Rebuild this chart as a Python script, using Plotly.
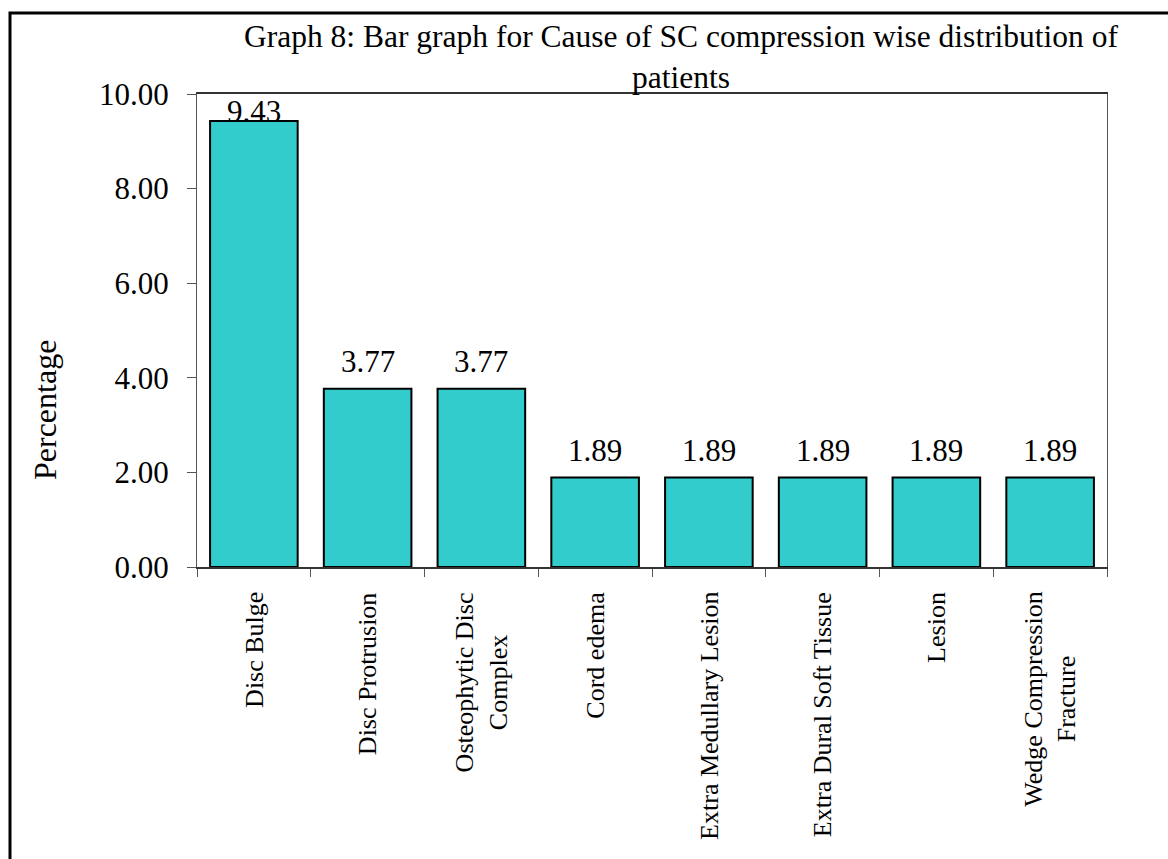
import plotly.graph_objects as go

# Cause of spinal cord compression, percentage of patients
causes = [
    "Disc Bulge",
    "Disc Protrusion",
    "Osteophytic Disc<br>Complex",
    "Cord edema",
    "Extra Medullary Lesion",
    "Extra Dural Soft Tissue",
    "Lesion",
    "Wedge Compression<br>Fracture",
]
percentages = [9.43, 3.77, 3.77, 1.89, 1.89, 1.89, 1.89, 1.89]
y_ticks = [0, 2, 4, 6, 8, 10]
y_tick_labels = ["0.00", "2.00", "4.00", "6.00", "8.00", "10.00"]
title_text = "Graph 8: Bar graph for Cause of SC compression wise distribution of<br>patients"

FONT = "Times New Roman, Liberation Serif, serif"
W, H = 1168, 859
L, R, T, B = 197, 1107, 94, 567  # plot area in pixels


def px_x(px):
    return (px - L) / (R - L)


def px_y(py):
    return (B - py) / (B - T)


fig = go.Figure(
    go.Bar(
        x=causes,
        y=percentages,
        marker=dict(color="#33CCCC", line=dict(color="black", width=2)),
        hoverinfo="x+y",
    )
)

annotations = []

# value labels above the bars
ymax = 10
for c, v in zip(causes, percentages):
    if v + 0.9 > ymax:
        annotations.append(dict(x=c, y=ymax, xref="x", yref="y", text=f"{v:.2f}",
                                showarrow=False, yanchor="top", yshift=2,
                                font=dict(family=FONT, size=31, color="black")))
    else:
        annotations.append(dict(x=c, y=v, xref="x", yref="y", text=f"{v:.2f}",
                                showarrow=False, yanchor="bottom", yshift=8,
                                font=dict(family=FONT, size=31, color="black")))

# rotated category labels below the axis
for c in causes:
    annotations.append(dict(x=c, y=0, xref="x", yref="paper", text=c,
                            showarrow=False, textangle=-90, yanchor="top",
                            xanchor="center", align="center", yshift=-23,
                            font=dict(family=FONT, size=26, color="black")))

# y-axis title
annotations.append(dict(x=px_x(45), y=px_y(410), xref="paper", yref="paper",
                        text="Percentage", showarrow=False, textangle=-90,
                        xanchor="center", yanchor="middle",
                        font=dict(family=FONT, size=32, color="black")))

# chart title
annotations.append(dict(x=px_x(681), y=px_y(17), xref="paper", yref="paper",
                        text=title_text, showarrow=False, xanchor="center",
                        yanchor="top", align="center",
                        font=dict(family=FONT, size=31.5, color="black")))

fig.update_layout(
    width=W, height=H,
    margin=dict(l=L, r=W - R, t=T, b=H - B, pad=0),
    paper_bgcolor="white", plot_bgcolor="white",
    bargap=0.23,
    showlegend=False,
    annotations=annotations,
    shapes=[dict(type="rect", xref="paper", yref="paper",
                 x0=px_x(10), x1=px_x(1180), y0=px_y(880), y1=px_y(13),
                 line=dict(color="black", width=3), fillcolor="rgba(0,0,0,0)",
                 layer="above")],
    xaxis=dict(
        showticklabels=False, ticks="outside", ticklen=8, tickcolor="#555",
        tickson="boundaries", showline=True, linecolor="#333", linewidth=1.5,
        mirror=True, showgrid=False, zeroline=False,
    ),
    yaxis=dict(
        range=[0, 10], tickvals=y_ticks, ticktext=y_tick_labels,
        ticks="outside", ticklen=9, tickcolor="#555", ticklabelstandoff=12,
        tickfont=dict(family=FONT, size=31, color="black"),
        showline=True, linecolor="#555", linewidth=1, mirror=True,
        showgrid=False, zeroline=False,
    ),
)

fig.write_html("out.html")
